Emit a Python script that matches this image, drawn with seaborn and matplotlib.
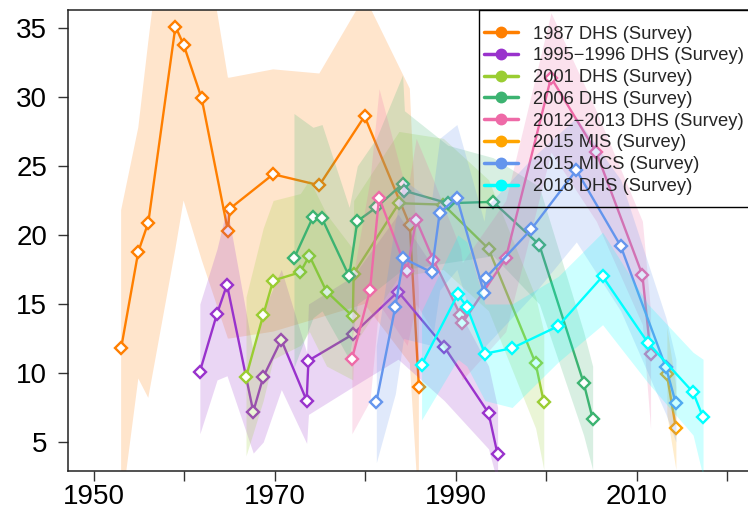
import matplotlib
matplotlib.use("Agg")
import matplotlib.pyplot as plt
from matplotlib.lines import Line2D
from matplotlib.patches import Rectangle
import seaborn as sns
import pandas as pd

sns.set_style("white")
plt.rcParams["font.family"] = ["Liberation Sans", "DejaVu Sans"]

# ---- survey series: year, estimate, lower / upper bound ----
yr_1987 = [1953.0, 1954.9, 1956.0, 1959.0, 1959.9, 1961.9, 1964.8, 1965.0, 1969.8, 1974.9, 1979.9, 1984.9, 1985.9]
val_1987 = [11.8, 18.8, 20.9, 35.1, 33.8, 29.9, 20.3, 21.9, 24.4, 23.6, 28.6, 20.7, 9.0]
lo_1987 = [0.0, 9.6, 8.2, 19.0, 22.5, 18.2, 12.5, 12.5, 13.0, 14.0, 15.0, 10.7, 0.0]
hi_1987 = [21.8, 27.8, 34.0, 50.0, 48.0, 43.0, 31.4, 31.4, 32.0, 31.7, 37.3, 30.6, 16.0]

yr_1995 = [1961.7, 1963.6, 1964.7, 1967.6, 1968.7, 1970.7, 1973.5, 1973.7, 1978.6, 1983.6, 1988.7, 1993.6, 1994.6]
val_1995 = [10.1, 14.3, 16.4, 7.2, 9.7, 12.4, 8.0, 10.9, 12.8, 15.9, 11.9, 7.1, 4.1]
lo_1995 = [5.6, 9.5, 9.8, 4.2, 5.0, 8.8, 4.9, 7.0, 9.0, 11.0, 8.0, 4.5, 2.0]
hi_1995 = [15.0, 19.0, 22.0, 11.5, 14.5, 17.5, 11.5, 15.0, 17.0, 21.5, 16.5, 10.5, 7.5]

yr_2001 = [1966.8, 1968.7, 1969.8, 1972.8, 1973.8, 1975.7, 1978.6, 1978.7, 1983.7, 1988.6, 1993.6, 1998.8, 1999.7]
val_2001 = [9.7, 14.2, 16.7, 17.3, 18.5, 15.9, 14.1, 17.2, 22.3, 22.2, 19.0, 10.7, 7.9]
lo_2001 = [4.0, 8.0, 11.0, 12.0, 13.0, 10.5, 9.5, 12.0, 17.0, 17.5, 14.5, 6.0, 3.0]
hi_2001 = [15.5, 20.5, 22.5, 23.0, 24.0, 21.5, 19.0, 22.5, 27.5, 27.0, 24.0, 15.5, 13.0]

yr_2006 = [1972.1, 1974.2, 1975.2, 1978.2, 1979.1, 1981.2, 1984.1, 1984.3, 1989.1, 1994.1, 1999.2, 2004.1, 2005.1]
val_2006 = [18.3, 21.3, 21.2, 17.0, 21.0, 22.0, 23.7, 23.2, 22.3, 22.4, 19.3, 9.3, 6.7]
lo_2006 = [10.4, 14.0, 14.5, 11.0, 15.0, 16.0, 17.5, 17.5, 18.0, 18.5, 15.0, 5.5, 3.0]
hi_2006 = [28.8, 27.8, 28.0, 22.0, 25.0, 27.0, 31.6, 29.0, 26.5, 25.6, 23.5, 13.0, 10.5]

yr_2012 = [1978.5, 1980.5, 1981.5, 1984.6, 1985.6, 1987.5, 1990.5, 1990.7, 1995.5, 2000.5, 2005.5, 2010.6, 2011.5]
val_2012 = [11.0, 16.0, 22.7, 17.4, 21.1, 18.2, 14.2, 13.6, 18.3, 31.4, 26.0, 17.1, 11.4]
lo_2012 = [5.6, 8.0, 15.0, 12.0, 15.0, 13.0, 10.0, 9.5, 13.0, 26.0, 21.0, 13.5, 6.0]
hi_2012 = [16.5, 24.0, 30.6, 23.0, 27.0, 24.0, 19.0, 18.0, 22.5, 36.1, 29.0, 21.0, 14.5]

yr_mis = [2013.3, 2014.3]
val_mis = [9.9, 6.0]
lo_mis = [7.0, 3.0]
hi_mis = [13.3, 9.0]

yr_mics = [1981.2, 1983.3, 1984.2, 1987.3, 1988.2, 1990.1, 1993.1, 1993.3, 1998.3, 2003.3, 2008.2, 2013.2, 2014.3]
val_mics = [7.9, 14.8, 18.3, 17.3, 21.6, 22.7, 15.8, 16.9, 20.4, 24.7, 19.2, 10.4, 7.8]
lo_mics = [3.5, 8.5, 12.5, 12.0, 16.0, 17.5, 11.0, 12.0, 15.5, 19.5, 14.5, 7.0, 5.0]
hi_mics = [12.0, 21.0, 24.0, 22.5, 27.0, 28.0, 21.0, 22.0, 25.5, 28.5, 24.0, 14.0, 11.0]

yr_2018 = [1986.2, 1990.2, 1991.2, 1993.2, 1996.2, 2001.3, 2006.2, 2011.2, 2016.2, 2017.3]
val_2018 = [10.6, 15.7, 14.8, 11.4, 11.8, 13.4, 17.0, 12.2, 8.6, 6.8]
lo_2018 = [6.6, 11.0, 10.5, 8.0, 7.5, 10.8, 13.5, 9.3, 5.5, 2.5]
hi_2018 = [14.5, 20.0, 19.5, 15.0, 15.0, 17.0, 20.2, 15.0, 11.5, 11.0]

labels = ["1987 DHS (Survey)", "1995\u22121996 DHS (Survey)", "2001 DHS (Survey)",
          "2006 DHS (Survey)", "2012\u22122013 DHS (Survey)", "2015 MIS (Survey)",
          "2015 MICS (Survey)", "2018 DHS (Survey)"]
colors = ["#FF7F00", "#9932CC", "#9ACD32", "#3CB371", "#EE6AA7", "#FFA500",
          "#6495ED", "#00FFFF"]

series = [
    (yr_1987, val_1987, lo_1987, hi_1987),
    (yr_1995, val_1995, lo_1995, hi_1995),
    (yr_2001, val_2001, lo_2001, hi_2001),
    (yr_2006, val_2006, lo_2006, hi_2006),
    (yr_2012, val_2012, lo_2012, hi_2012),
    (yr_mis, val_mis, lo_mis, hi_mis),
    (yr_mics, val_mics, lo_mics, hi_mics),
    (yr_2018, val_2018, lo_2018, hi_2018),
]

x_ticks = [1950, 1960, 1970, 1980, 1990, 2000, 2010, 2020]
x_ticklabels = ["1950", "", "1970", "", "1990", "", "2010", ""]
y_ticks = [5, 10, 15, 20, 25, 30, 35]

W, H = 748, 511
fig = plt.figure(figsize=(W / 100, H / 100), dpi=100)
ax = fig.add_axes([68 / W, (H - 471) / H, (770 - 68) / W, (471 - 10) / H])

for i, ((yr, val, lo, hi), col) in enumerate(zip(series, colors)):
    z = 2 + i
    ax.fill_between(yr, lo, hi, color=col, alpha=0.2, linewidth=0, zorder=z)
    df = pd.DataFrame({"year": yr, "value": val})
    sns.lineplot(data=df, x="year", y="value", sort=False, estimator=None,
                 color=col, linewidth=1.7, marker="D", markersize=6.6,
                 markerfacecolor="white", markeredgecolor=col,
                 markeredgewidth=1.7, ax=ax, zorder=z + 0.5, legend=False)

ax.set_xlim(1947.13, 1947.13 + (770 - 68) / 9.05)
ax.set_ylim(2.9, 36.3)
ax.set_xlabel("")
ax.set_ylabel("")

ax.set_xticks(x_ticks)
ax.set_xticklabels(x_ticklabels)
ax.set_yticks(y_ticks)
ax.set_yticklabels([str(v) for v in y_ticks])
ax.tick_params(axis="both", direction="out", length=7, width=1.0,
               color="#333333", labelsize=20, labelcolor="black")
ax.tick_params(axis="y", pad=8)
ax.tick_params(axis="x", pad=2)
ax.tick_params(left=True, bottom=True)

for side in ["left", "top", "bottom"]:
    ax.spines[side].set_visible(True)
    ax.spines[side].set_color("#222222")
    ax.spines[side].set_linewidth(1.1)
ax.spines["right"].set_visible(False)
ax.grid(False)

# legend entries (transparent, boxed by a separate rectangle)
handles = [Line2D([0], [0], color=c, linewidth=2.5, marker="o", markersize=7.5,
                  markerfacecolor=c, markeredgecolor=c) for c in colors]
leg = ax.legend(handles=handles, labels=labels, loc="upper left",
                bbox_to_anchor=(479 / W, 1 - 21 / H), bbox_transform=fig.transFigure,
                borderaxespad=0, frameon=False, fontsize=13.2,
                handlelength=1.9, handletextpad=0.8, labelspacing=0.26,
                borderpad=0.25)
leg.set_zorder(50)
fig.patches.append(Rectangle((479 / W, 1 - 207 / H), (770 - 479) / W, (207 - 10) / H,
                             transform=fig.transFigure, fill=False,
                             edgecolor="black", linewidth=1.0, zorder=60))

fig.savefig("out.png", dpi=100)
